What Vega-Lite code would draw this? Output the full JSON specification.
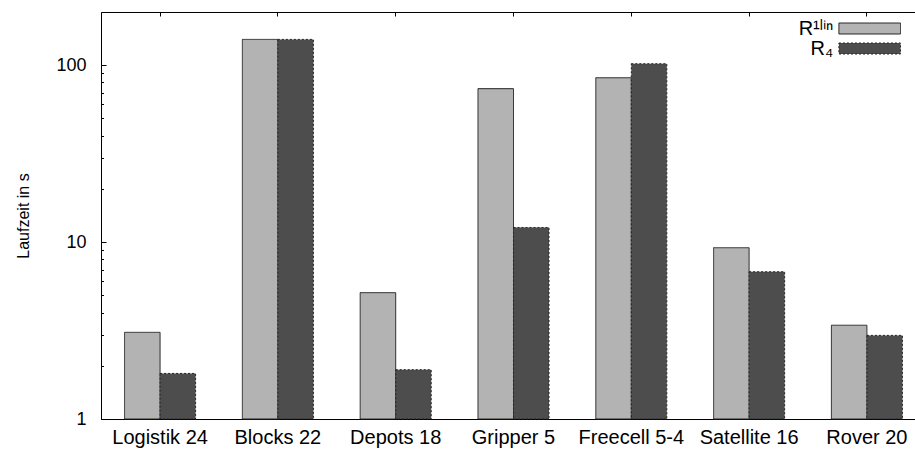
{
  "$schema": "https://vega.github.io/schema/vega-lite/v6.json",
  "width": 825,
  "height": 407,
  "autosize": {"type": "none"},
  "padding": {"left": 101, "top": 12, "right": 0, "bottom": 31},
  "background": "white",
  "config": {
    "font": "Liberation Sans",
    "view": {"stroke": "black", "strokeWidth": 1},
    "axis": {"grid": false, "domainColor": "black", "tickColor": "black", "labelColor": "black", "titleColor": "black", "labelFont": "Liberation Sans", "titleFont": "Liberation Sans"}
  },
  "data": {
    "values": [
      {"problem": "Logistik 24", "series": "R¹ˡⁱⁿ", "time": 3.09},
      {"problem": "Logistik 24", "series": "R₄", "time": 1.81},
      {"problem": "Blocks 22", "series": "R¹ˡⁱⁿ", "time": 140},
      {"problem": "Blocks 22", "series": "R₄", "time": 140},
      {"problem": "Depots 18", "series": "R¹ˡⁱⁿ", "time": 5.18},
      {"problem": "Depots 18", "series": "R₄", "time": 1.9},
      {"problem": "Gripper 5", "series": "R¹ˡⁱⁿ", "time": 73.7},
      {"problem": "Gripper 5", "series": "R₄", "time": 12.1},
      {"problem": "Freecell 5-4", "series": "R¹ˡⁱⁿ", "time": 85},
      {"problem": "Freecell 5-4", "series": "R₄", "time": 102},
      {"problem": "Satellite 16", "series": "R¹ˡⁱⁿ", "time": 9.3},
      {"problem": "Satellite 16", "series": "R₄", "time": 6.8},
      {"problem": "Rover 20", "series": "R¹ˡⁱⁿ", "time": 3.39},
      {"problem": "Rover 20", "series": "R₄", "time": 2.97}
    ]
  },
  "layer": [
    {
      "mark": {"type": "bar", "stroke": "#222222", "strokeWidth": 1},
      "encoding": {
        "x": {
          "field": "problem", "type": "nominal", "sort": null,
          "scale": {"paddingInner": 0.397, "paddingOuter": 0.2},
          "axis": {"title": null, "orient": "bottom", "labelAngle": 0, "labelFontSize": 20, "labelPadding": 13, "tickSize": -5, "domainWidth": 1}
        },
        "xOffset": {"field": "series", "type": "nominal", "sort": null, "scale": {"paddingInner": 0, "paddingOuter": 0}},
        "y": {
          "field": "time", "type": "quantitative", "stack": null,
          "scale": {"type": "log", "domain": [1, 200], "nice": false},
          "axis": {
            "title": "Laufzeit in s", "titleFontSize": 16, "titleFontWeight": "normal", "titlePadding": 24,
            "values": [1, 2, 3, 4, 5, 6, 7, 8, 9, 10, 20, 30, 40, 50, 60, 70, 80, 90, 100],
            "labelExpr": "datum.value == 1 || datum.value == 10 || datum.value == 100 ? datum.label : ''",
            "labelFontSize": 18, "labelPadding": 20,
            "tickSize": {"condition": {"test": "datum.value == 1 || datum.value == 10 || datum.value == 100", "value": -5}, "value": -2.5}
          }
        },
        "y2": {"datum": 1},
        "color": {
          "field": "series", "type": "nominal",
          "scale": {"domain": ["R¹ˡⁱⁿ", "R₄"], "range": ["#b3b3b3", "#4d4d4d"]},
          "legend": {
            "orient": "none", "legendX": 758.7, "legendY": 6.5, "title": null, "padding": 0,
            "symbolType": "M-5.6,-1H5.6V1H-5.6Z", "symbolSize": 121,
            "symbolStrokeColor": "black", "symbolStrokeWidth": 1,
            "labelAlign": "right", "labelOffset": -46.5, "labelFontSize": 20, "rowPadding": 0, "labelColor": "black"
          }
        },
        "strokeDash": {
          "field": "series", "type": "nominal",
          "scale": {"domain": ["R¹ˡⁱⁿ", "R₄"], "range": [[1, 0], [2, 2]]}
        }
      }
    },
    {
      "mark": {"type": "bar", "opacity": 0},
      "encoding": {
        "x": {
          "field": "problem", "type": "nominal", "sort": null,
          "axis": {"title": null, "orient": "top", "labels": false, "tickSize": -4, "domain": false}
        },
        "xOffset": {"field": "series", "type": "nominal", "sort": null},
        "y": {"field": "time", "type": "quantitative", "stack": null},
        "y2": {"datum": 1}
      }
    }
  ],
  "resolve": {"axis": {"x": "independent"}}
}
